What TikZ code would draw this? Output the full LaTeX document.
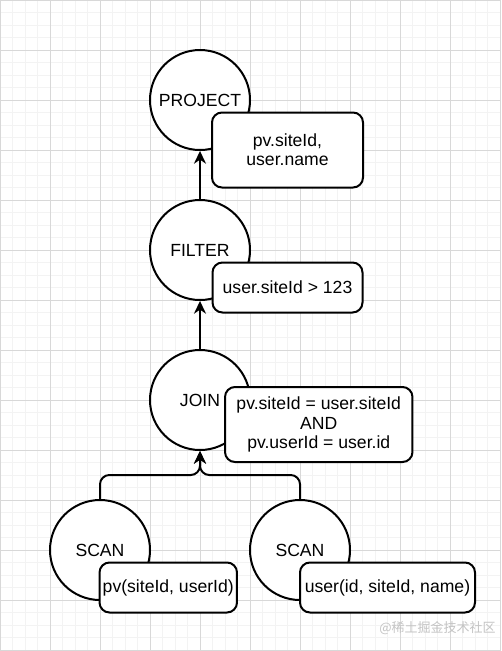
\documentclass[tikz,border=0pt]{standalone}
\usepackage{fontspec}
\setmainfont{Liberation Sans}
\newfontfamily\cjkfont{Noto Sans CJK SC}
\usetikzlibrary{arrows.meta}
\definecolor{minorgrid}{HTML}{F3F3F3}
\definecolor{majorgrid}{HTML}{D8D8D8}
\definecolor{wmark}{HTML}{C4C4C4}
\tikzset{
  opcircle/.style={circle, draw=black, line width=1.5pt, fill=white, minimum size=75pt, inner sep=0pt,
    font=\fontsize{13.2}{14.4}\selectfont},
  infobox/.style={rectangle, rounded corners=7.5pt, draw=black, line width=1.5pt, fill=white, inner sep=0pt,
    align=center, font=\fontsize{13.2}{14.4}\selectfont},
  flow/.style={line width=1.5pt, -{Stealth[length=9.5pt,width=9pt,inset=3pt]}},
  mingrid/.style={draw=minorgrid, line width=0.75pt},
  majgrid/.style={draw=majorgrid, line width=0.75pt}
}
\begin{document}
\begin{tikzpicture}[x=0.75pt,y=-0.75pt]
\useasboundingbox (0,0) rectangle (501,651);
\fill[white] (0,0) rectangle (501,651);
% grid
\foreach \i in {0,...,40} \draw[mingrid] (\i*12.5,0) -- (\i*12.5,651);
\foreach \j in {0,...,52} \draw[mingrid] (0,\j*12.5) -- (501,\j*12.5);
\foreach \i in {0,...,10} \draw[majgrid] (\i*50,0) -- (\i*50,651);
\foreach \j in {0,...,13} \draw[majgrid] (0,\j*50) -- (501,\j*50);
% operator circles
\node[opcircle] (proj) at (200,100) {PROJECT};
\node[opcircle] (filt) at (200,250) {FILTER};
\node[opcircle] (join) at (200,400) {JOIN};
\node[opcircle] (scanl) at (100,550) {SCAN};
\node[opcircle] (scanr) at (300,550) {SCAN};
% info boxes
\node[infobox, minimum width=113.25pt, minimum height=56.25pt] (projb) at (287.5,150) {pv.siteId,\\user.name};
\node[infobox, minimum width=112.5pt, minimum height=37.5pt] (filtb) at (287.5,287.5) {user.siteId {>} 123};
\node[infobox, minimum width=140.6pt, minimum height=56.25pt] (joinb) at (318.75,424.5) {pv.siteId = user.siteId\\AND\\pv.userId = user.id};
\node[infobox, minimum width=103.1pt, minimum height=37.5pt] (scanlb) at (168.25,587.5) {pv(siteId, userId)};
\node[infobox, minimum width=131.25pt, minimum height=37.5pt] (scanrb) at (387.5,587.5) {user(id, siteId, name)};
% connectors
\coordinate (merge) at (200,475);
\draw[flow] (filt.north) -- (proj.south);
\draw[flow] (join.north) -- (filt.south);
\draw[flow, rounded corners=7pt] (scanl.north) |- (merge) -- (join.south);
\draw[flow, rounded corners=7pt] (scanr.north) |- (merge) -- (join.south);
% watermark
\node[anchor=east, text=wmark, inner sep=0pt, font=\cjkfont\fontsize{9.75}{10}\selectfont] (wm) at (496,628) {@稀土掘金技术社区};
\end{tikzpicture}
\end{document}
